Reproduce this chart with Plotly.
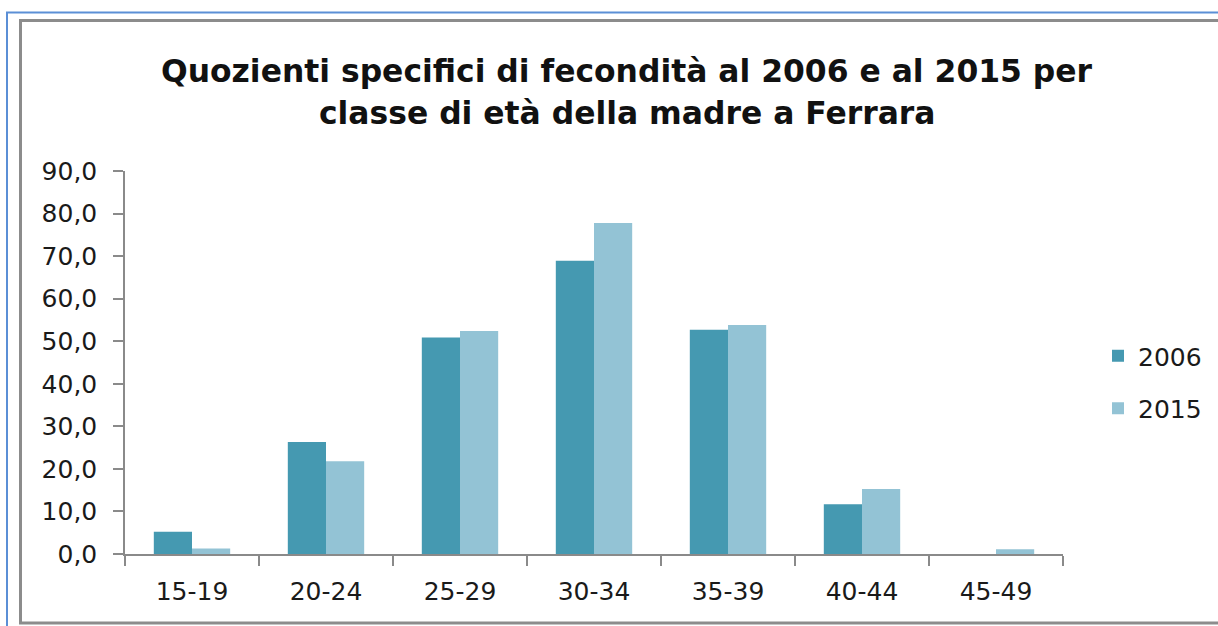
import plotly.graph_objects as go

categories = ["15-19", "20-24", "25-29", "30-34", "35-39", "40-44", "45-49"]
values_2006 = [5.2, 26.3, 50.9, 68.9, 52.7, 11.7, 0.0]
values_2015 = [1.3, 21.8, 52.4, 77.8, 53.8, 15.3, 1.1]
series_names = ["2006", "2015"]
title_lines = ["Quozienti specifici di fecondità al 2006 e al 2015 per",
               "classe di età della madre a Ferrara"]

W, H = 1218, 626
L, R, T, B = 125, 1063, 171, 554  # plot area in pixels


def px_x(p):
    return (p - L) / (R - L)


def px_y(p):
    return (B - p) / (B - T)


FONT = "'DejaVu Sans', sans-serif"
TXT = "#1a1a1a"

fig = go.Figure()
fig.add_trace(go.Bar(x=categories, y=values_2006, name=series_names[0],
                     legendgroup="a",
                     marker=dict(color="#4599B1", line=dict(width=0))))
fig.add_trace(go.Bar(x=categories, y=values_2015, name=series_names[1],
                     legendgroup="b",
                     marker=dict(color="#93C3D5", line=dict(width=0))))

annotations = []
for line, base in zip(title_lines, [84, 126]):
    annotations.append(dict(text="<b>" + line + "</b>", xref="paper", yref="paper",
                            x=px_x(627), xanchor="center",
                            y=px_y(base + 7), yanchor="bottom",
                            showarrow=False,
                            font=dict(family=FONT, size=31.4, color="#111111")))

fig.update_layout(
    width=W, height=H,
    margin=dict(l=L, r=W - R, t=T, b=H - B, autoexpand=False),
    paper_bgcolor="white", plot_bgcolor="white",
    separators=",.",
    barmode="group", bargap=0.43, bargroupgap=0.0,
    font=dict(family=FONT, size=25, color=TXT),
    annotations=annotations,
    legend=dict(x=px_x(1098), xanchor="left", y=px_y(382), yanchor="middle",
                font=dict(family=FONT, size=25, color=TXT),
                tracegroupgap=17, itemwidth=30, bgcolor="rgba(0,0,0,0)"),
    xaxis=dict(showline=True, linecolor="#8a8a8a", linewidth=1.5,
               ticks="outside", tickson="boundaries", ticklen=10,
               tickcolor="#8a8a8a", tickwidth=1.5, showgrid=False,
               ticklabelstandoff=14,
               tickfont=dict(family=FONT, size=25, color=TXT)),
    yaxis=dict(range=[0, 90], dtick=10, tickformat=".1f",
               showline=True, linecolor="#8a8a8a", linewidth=1.5,
               ticks="outside", ticklen=10, tickcolor="#8a8a8a", tickwidth=1.5,
               showgrid=False, zeroline=False, ticklabelstandoff=11,
               tickfont=dict(family=FONT, size=25, color=TXT)),
    shapes=[
        dict(type="rect", xref="paper", yref="paper",
             x0=px_x(7), x1=px_x(1240), y0=px_y(660), y1=px_y(12.5),
             line=dict(color="#5B8FD6", width=2), layer="below"),
        dict(type="rect", xref="paper", yref="paper",
             x0=px_x(20.5), x1=px_x(1240), y0=px_y(623), y1=px_y(20.5),
             line=dict(color="#8c8c8c", width=3), layer="below"),
    ],
)

fig.write_html("out.html", config={"displayModeBar": False},
               post_script="document.body.style.margin='0';document.body.style.overflow='hidden';")
